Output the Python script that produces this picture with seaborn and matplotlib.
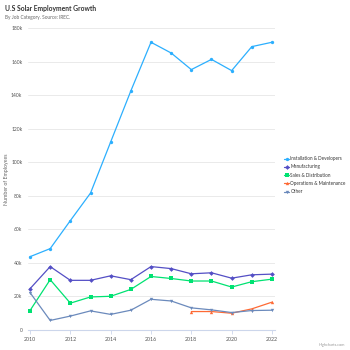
import matplotlib
matplotlib.use("Agg")
import matplotlib.pyplot as plt
import seaborn as sns
import pandas as pd
import numpy as np
from matplotlib.ticker import FuncFormatter, MultipleLocator

years = list(range(2010, 2023))
installation = [43.7, 48.5, 65.2, 81.6, 112.1, 142.5, 171.5, 165.1, 155.2, 161.3, 154.6, 168.9, 171.5]
manufacturing = [24.6, 37.8, 29.6, 29.6, 32.3, 30.0, 37.8, 36.6, 33.5, 34.1, 30.9, 32.9, 33.3]
sales = [11.6, 30.0, 16.0, 19.7, 20.1, 24.2, 31.9, 30.7, 29.2, 29.2, 25.6, 28.8, 30.3]
operations = [np.nan] * 8 + [11.0, 11.0, 10.0, 12.6, 16.6]
other = [22.3, 5.7, 8.3, 11.4, 9.3, 11.8, 18.3, 17.3, 13.2, 12.0, 10.4, 11.6, 11.8]

series_names = ["Installation & Developers", "Manufacturing", "Sales & Distribution",
                "Operations & Maintenance", "Other"]
series_values = [installation, manufacturing, sales, operations, other]
colors = ["#2caffe", "#544fc5", "#00e272", "#fe6a35", "#6b8abc"]
markers = ["o", "D", "s", "^", "v"]

rows = []
for name, vals in zip(series_names, series_values):
    for y, v in zip(years, vals):
        if not np.isnan(v):
            rows.append({"Year": y, "Employees": v * 1000, "Category": name})
df = pd.DataFrame(rows)

sns.set_theme(style="white")
plt.rcParams["font.family"] = ["Lato", "DejaVu Sans"]

fig = plt.figure(figsize=(3.5, 3.5), dpi=100)
ax = fig.add_axes([28 / 350, 20 / 350, 247 / 350, 302 / 350])

sns.lineplot(data=df, x="Year", y="Employees", hue="Category", style="Category",
             hue_order=series_names, style_order=series_names,
             palette=dict(zip(series_names, colors)),
             markers=dict(zip(series_names, markers)), dashes=False,
             linewidth=0.9, markersize=2.4, markeredgewidth=0,
             ax=ax)

ax.set_xlim(2009.9, 2022.15)
ax.set_ylim(0, 180000)
ax.yaxis.set_major_locator(MultipleLocator(20000))
ax.yaxis.set_major_formatter(FuncFormatter(lambda v, p: "0" if v == 0 else f"{int(v / 1000)}k"))
ax.xaxis.set_major_locator(MultipleLocator(2))
ax.grid(axis="y", color="#e6e6e6", linewidth=0.6)
ax.set_axisbelow(True)
for s in ["top", "right", "left"]:
    ax.spines[s].set_visible(False)
ax.spines["bottom"].set_color("#ccd6eb")
ax.spines["bottom"].set_linewidth(0.8)
ax.tick_params(axis="x", which="major", bottom=True, length=3, width=0.6,
               color="#ccd6eb", labelsize=3.8, labelcolor="#555555", pad=2)
ax.tick_params(axis="y", left=False, length=0, labelsize=3.6, labelcolor="#555555", pad=4)
ax.set_xlabel("")
ax.set_ylabel("Number of Employees", fontsize=3.8, color="#666666")
ax.yaxis.set_label_coords((9.5 - 28) / 247, 0.5)

handles, labels = ax.get_legend_handles_labels()
ax.legend(handles, labels, loc="upper left", bbox_to_anchor=(282 / 350, 1 - 154 / 350),
          bbox_transform=fig.transFigure, frameon=False, fontsize=3.3,
          handlelength=1.0, handletextpad=0.35, labelspacing=0.7, borderpad=0,
          labelcolor="#333333")

fig.text(5 / 350, 1 - 8 / 350, "U.S Solar Employment Growth", fontsize=4.9,
         fontweight="bold", color="#333333", va="center", ha="left")
fig.text(5 / 350, 1 - 18 / 350, "By Job Category. Source: IREC.", fontsize=3.4,
         color="#666666", va="center", ha="left")
fig.text(345 / 350, 1 - 345 / 350, "Highcharts.com", fontsize=2.8,
         color="#999999", va="center", ha="right")

fig.savefig("out.png", dpi=100)
